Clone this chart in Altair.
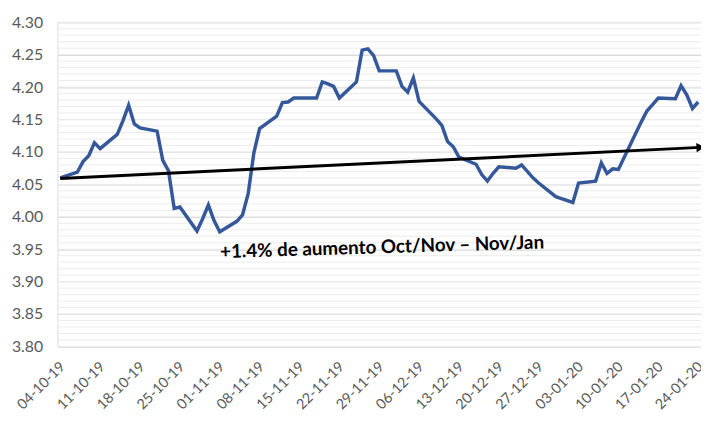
import altair as alt
import pandas as pd

# ---- data ----
dates = [
    "2019-10-04", "2019-10-07", "2019-10-08", "2019-10-09", "2019-10-10", "2019-10-11",
    "2019-10-14", "2019-10-15", "2019-10-16", "2019-10-17", "2019-10-18",
    "2019-10-21", "2019-10-22", "2019-10-23", "2019-10-24", "2019-10-25",
    "2019-10-28", "2019-10-29", "2019-10-30", "2019-10-31", "2019-11-01",
    "2019-11-04", "2019-11-05", "2019-11-06", "2019-11-07", "2019-11-08",
    "2019-11-11", "2019-11-12", "2019-11-13", "2019-11-14", "2019-11-15",
    "2019-11-18", "2019-11-19", "2019-11-20", "2019-11-21", "2019-11-22",
    "2019-11-25", "2019-11-26", "2019-11-27", "2019-11-28", "2019-11-29",
    "2019-12-02", "2019-12-03", "2019-12-04", "2019-12-05", "2019-12-06",
    "2019-12-09", "2019-12-10", "2019-12-11", "2019-12-12", "2019-12-13",
    "2019-12-16", "2019-12-17", "2019-12-18", "2019-12-19", "2019-12-20",
    "2019-12-23", "2019-12-24", "2019-12-26", "2019-12-27",
    "2019-12-30", "2019-12-31", "2020-01-02", "2020-01-03",
    "2020-01-06", "2020-01-07", "2020-01-08", "2020-01-09", "2020-01-10",
    "2020-01-13", "2020-01-14", "2020-01-15", "2020-01-16", "2020-01-17",
    "2020-01-20", "2020-01-21", "2020-01-22", "2020-01-23", "2020-01-24",
]
values = [
    4.060, 4.069, 4.085, 4.094, 4.114, 4.105,
    4.127, 4.148, 4.172, 4.143, 4.137,
    4.132, 4.087, 4.071, 4.013, 4.015,
    3.978, 3.997, 4.018, 3.994, 3.977,
    3.993, 4.003, 4.036, 4.099, 4.136,
    4.155, 4.176, 4.177, 4.183, 4.183,
    4.183, 4.208, 4.205, 4.201, 4.183,
    4.208, 4.257, 4.259, 4.249, 4.225,
    4.225, 4.201, 4.192, 4.214, 4.178,
    4.151, 4.141, 4.116, 4.108, 4.092,
    4.081, 4.065, 4.055, 4.067, 4.077,
    4.075, 4.080, 4.060, 4.052,
    4.031, 4.028, 4.022, 4.052,
    4.055, 4.083, 4.067, 4.074, 4.073,
    4.128, 4.146, 4.163, 4.173, 4.183,
    4.182, 4.202, 4.188, 4.167, 4.177,
]

tick_dates = [
    "2019-10-04", "2019-10-11", "2019-10-18", "2019-10-25", "2019-11-01",
    "2019-11-08", "2019-11-15", "2019-11-22", "2019-11-29", "2019-12-06",
    "2019-12-13", "2019-12-20", "2019-12-27", "2020-01-03", "2020-01-10",
    "2020-01-17", "2020-01-24",
]
y_major = [3.80, 3.85, 3.90, 3.95, 4.00, 4.05, 4.10, 4.15, 4.20, 4.25, 4.30]
y_minor = [round(3.80 + i * 0.01, 2) for i in range(51)]

trend_dates = ["2019-10-04T00:00:00", "2020-01-24T10:00:00"]
trend_values = [4.059, 4.107]

note_text = "+1.4% de aumento Oct/Nov – Nov/Jan"
note_date = "2019-11-29T12:00:00"
note_value = 3.953

x_domain = ["2019-10-03T12:00:00", "2020-01-24T12:00:00"]

# ---- tables ----
df = pd.DataFrame({"date": dates, "value": values})
trend = pd.DataFrame({"date": trend_dates, "value": trend_values})
head = trend.iloc[[1]]
note = pd.DataFrame({"date": [note_date], "value": [note_value], "text": [note_text]})
minor_df = pd.DataFrame({"value": y_minor})

FONT = "Lato"
LABEL_COLOR = "#595959"
SHIFT_MS = 11 * 3600 * 1000  # label anchor nudged slightly left of the tick date

def to_ms(s):
    return int(pd.Timestamp(s, tz="UTC").value // 1_000_000)

xscale = alt.Scale(type="utc", domain=[to_ms(d) for d in x_domain])
yscale = alt.Scale(domain=[3.80, 4.30], nice=False, zero=False)

x_axis = alt.Axis(
    values=[to_ms(d) - SHIFT_MS for d in tick_dates],
    labelExpr=f"utcFormat(toNumber(datum.value) + {SHIFT_MS}, '%d-%m-%y')",
    labelAngle=315, labelFont=FONT, labelFontSize=14.5, labelColor=LABEL_COLOR,
    labelPadding=13, ticks=False, tickSize=0, domain=False, grid=False,
    title=None, labelOverlap=False, labelFlush=False,
)
y_axis = alt.Axis(
    values=y_major, format=".2f", labelFont=FONT, labelFontSize=16,
    labelColor=LABEL_COLOR, labelPadding=15, ticks=False, tickSize=0,
    domain=False, grid=True, gridColor="#d9d9d9", gridWidth=1.2, title=None,
)

X = alt.X("date:T", scale=xscale, axis=x_axis)
Y = alt.Y("value:Q", scale=yscale, axis=y_axis)

minor = alt.Chart(minor_df).mark_rule(color="#ececec", strokeWidth=1).encode(y=Y)

line = alt.Chart(df).mark_line(color="#34589A", strokeWidth=3.5, strokeJoin="miter").encode(x=X, y=Y)

trend_line = alt.Chart(trend).mark_line(color="black", strokeWidth=3).encode(x=X, y=Y)

arrow_head = alt.Chart(head).mark_point(
    shape="triangle-right", filled=True, color="black", size=90, opacity=1, angle=357
).encode(x=X, y=Y)

label = alt.Chart(note).mark_text(
    font=FONT, fontSize=19, fontWeight="bold", color="black", angle=358.3,
    align="center", baseline="middle",
).encode(x=X, y=Y, text="text:N")

chart = alt.layer(minor, line, trend_line, arrow_head, label).properties(
    width=651, height=328,
    autosize=alt.AutoSizeParams(type="none"),
    padding={"left": 50, "top": 12, "right": 0, "bottom": 73},
).configure_view(stroke=None).configure(background="white")

chart.save("out.html", embed_options={"renderer": "svg", "actions": False})
